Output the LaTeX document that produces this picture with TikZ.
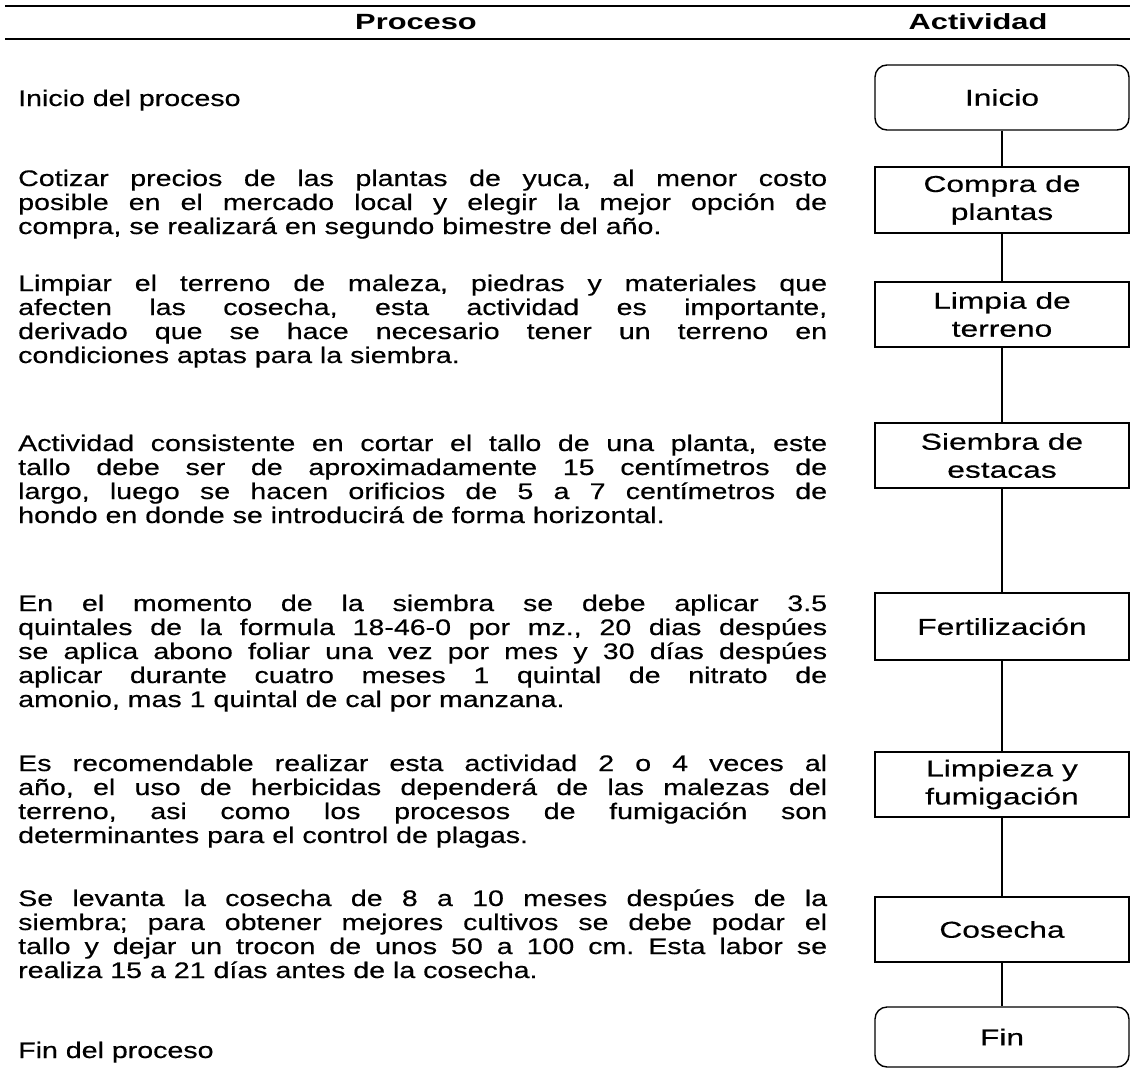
\documentclass[tikz,border=0pt]{standalone}
\usepackage{fontspec}
\setmainfont{Liberation Sans}
\newfontfamily\bodyfam{Liberation Sans}[FakeStretch=1.27,FakeBold=0.4]
\newfontfamily\boxfam{Liberation Sans}[FakeStretch=1.38,FakeBold=0.4]
\newfontfamily\headfam{Liberation Sans}[FakeStretch=1.4]
\newcommand\J[1]{\makebox[809pt][s]{#1}}
\frenchspacing
\begin{document}
\begin{tikzpicture}[x=1pt,y=-1pt,
  body/.style={font=\bodyfam\fontsize{22.5}{24}\selectfont, anchor=base west, inner sep=0pt},
  head/.style={font=\headfam\bfseries\fontsize{22}{26}\selectfont, anchor=base, inner sep=0pt},
  actbox/.style={draw, line width=1.4pt, minimum width=254pt, minimum height=65pt, inner sep=0pt,
     align=center, font=\boxfam\fontsize{23}{28}\selectfont},
  termbox/.style={actbox, rounded corners=12pt},
  link/.style={line width=1.4pt}]
\useasboundingbox (0,0) rectangle (1130,1082);
\fill[white] (0,0) rectangle (1130,1082);
% header
\coordinate (t1) at (5,6); \coordinate (t2) at (1130,6);
\coordinate (b1) at (5,39); \coordinate (b2) at (1130,39);
\draw[line width=1.5pt] (t1) -- (t2);
\draw[line width=2.2pt] (b1) -- (b2);
\node[head] (hproc) at (416,29) {Proceso};
\node[head] (hact) at (978,29) {Actividad};
% activity boxes
\node[termbox, minimum height=65pt] (inicio) at (1002,97.5) {Inicio};
\node[actbox, minimum height=66pt] (compra) at (1002,200) {Compra de\\plantas};
\node[actbox] (limpia) at (1002,314.5) {Limpia de\\terreno};
\node[actbox] (siembra) at (1002,455.5) {Siembra de\\estacas};
\node[actbox, minimum height=67pt] (fert) at (1002,626.5) {Fertilización};
\node[actbox] (limpieza) at (1002,784.5) {Limpieza y\\fumigación};
\node[actbox] (cosecha) at (1002,929.5) {Cosecha};
\node[termbox, minimum height=60pt] (fin) at (1002,1037) {Fin};
\draw[link] (inicio) -- (compra);
\draw[link] (compra) -- (limpia);
\draw[link] (limpia) -- (siembra);
\draw[link] (siembra) -- (fert);
\draw[link] (fert) -- (limpieza);
\draw[link] (limpieza) -- (cosecha);
\draw[link] (cosecha) -- (fin);
% process texts
\node[body] (p0) at (18,106) {Inicio del proceso};
\node[body] (p1a) at (18,186) {\J{Cotizar precios de las plantas de yuca, al menor costo}};
\node[body] (p1b) at (18,210) {\J{posible en el mercado local y elegir la mejor opción de}};
\node[body] (p1c) at (18,234) {compra, se realizará en segundo bimestre del año.};
\node[body] (p2a) at (18,291) {\J{Limpiar el terreno de maleza, piedras y materiales que}};
\node[body] (p2b) at (18,315) {\J{afecten las cosecha, esta actividad es importante,}};
\node[body] (p2c) at (18,339) {\J{derivado que se hace necesario tener un terreno en}};
\node[body] (p2d) at (18,363) {condiciones aptas para la siembra.};
\node[body] (p3a) at (18,451) {\J{Actividad consistente en cortar el tallo de una planta, este}};
\node[body] (p3b) at (18,475) {\J{tallo debe ser de aproximadamente 15 centímetros de}};
\node[body] (p3c) at (18,499) {\J{largo, luego se hacen orificios de 5 a 7 centímetros de}};
\node[body] (p3d) at (18,523) {hondo en donde se introducirá de forma horizontal.};
\node[body] (p4a) at (18,611) {\J{En el momento de la siembra se debe aplicar 3.5}};
\node[body] (p4b) at (18,635) {\J{quintales de la formula 18-46-0 por mz., 20 dias despúes}};
\node[body] (p4c) at (18,659) {\J{se aplica abono foliar una vez por mes y 30 días despúes}};
\node[body] (p4d) at (18,683) {\J{aplicar durante cuatro meses 1 quintal de nitrato de}};
\node[body] (p4e) at (18,707) {amonio, mas 1 quintal de cal por manzana.};
\node[body] (p5a) at (18,771) {\J{Es recomendable realizar esta actividad 2 o 4 veces al}};
\node[body] (p5b) at (18,795) {\J{año, el uso de herbicidas dependerá de las malezas del}};
\node[body] (p5c) at (18,819) {\J{terreno, asi como los procesos de fumigación son}};
\node[body] (p5d) at (18,843) {determinantes para el control de plagas.};
\node[body] (p6a) at (18,906) {\J{Se levanta la cosecha de 8 a 10 meses despúes de la}};
\node[body] (p6b) at (18,930) {\J{siembra; para obtener mejores cultivos se debe podar el}};
\node[body] (p6c) at (18,954) {\J{tallo y dejar un trocon de unos 50 a 100 cm. Esta labor se}};
\node[body] (p6d) at (18,978) {realiza 15 a 21 días antes de la cosecha.};
\node[body] (p7) at (18,1058) {Fin del proceso};
\end{tikzpicture}
\end{document}
